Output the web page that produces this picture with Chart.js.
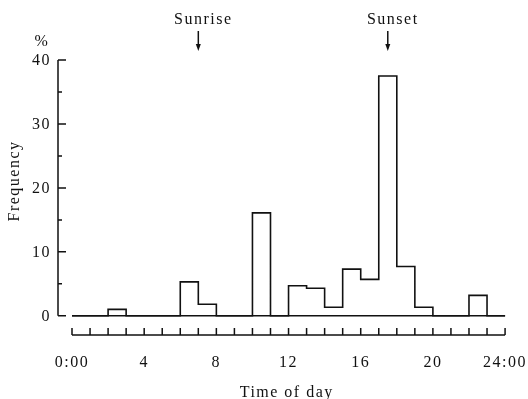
<!DOCTYPE html>
<html>
<head>
<title>Time of day histogram</title>
<script src="https://cdn.jsdelivr.net/npm/chart.js"></script>
<style>
    body { margin: 0; background: #fff; }
    #wrap { width: 528px; height: 399px; }
</style>
</head>
<body>
<div id="wrap"><canvas id="histChart"></canvas></div>
<script>
    // bin start hour -> frequency (%)
    const hours = [0, 1, 2, 3, 4, 5, 6, 7, 8, 9, 10, 11, 12, 13, 14, 15, 16, 17, 18, 19, 20, 21, 22, 23];
    const freq = [0, 0, 1.0, 0, 0, 0, 5.3, 1.8, 0, 0, 16.1, 0, 4.7, 4.3, 1.35, 7.3, 5.7, 37.5, 7.7, 1.35, 0, 0, 3.2, 0];

    const xTickValues = [0, 4, 8, 12, 16, 20, 24];
    const xTickLabels = ['0:00', '4', '8', '12', '16', '20', '24:00'];
    const yTickValues = [0, 10, 20, 30, 40];
    const yMinorTicks = [5, 15, 25, 35];

    const markerLabels = ['Sunrise', 'Sunset'];
    const markerHours = [7, 17.5];

    const FONT = '16px "Liberation Serif", serif';
    const INK = '#111';

    // step outline points (last bin closes at 24)
    const stepPoints = hours.map((h, i) => ({ x: h, y: freq[i] }));
    stepPoints.push({ x: 24, y: 0 });

    function drawText(ctx, txt, x, y, align) {
        ctx.save();
        ctx.font = FONT;
        ctx.fillStyle = INK;
        ctx.textAlign = align || 'center';
        ctx.textBaseline = 'middle';
        ctx.letterSpacing = '1.5px';
        ctx.fillText(txt, x, y);
        ctx.restore();
    }

    const axesPlugin = {
        id: 'paperAxes',
        afterDraw(chart) {
            const ctx = chart.ctx;
            const xs = chart.scales.x, ys = chart.scales.y;
            ctx.save();
            ctx.strokeStyle = INK;
            ctx.fillStyle = INK;
            ctx.lineWidth = 1.5;

            // y axis: line from 0 to 40, ticks pointing inward
            const yAxisX = chart.chartArea.left;
            ctx.beginPath();
            ctx.moveTo(yAxisX, ys.getPixelForValue(0));
            ctx.lineTo(yAxisX, ys.getPixelForValue(40));
            yTickValues.forEach(v => {
                const py = ys.getPixelForValue(v);
                ctx.moveTo(yAxisX, py);
                ctx.lineTo(yAxisX + 8, py);
            });
            yMinorTicks.forEach(v => {
                const py = ys.getPixelForValue(v);
                ctx.moveTo(yAxisX, py);
                ctx.lineTo(yAxisX + 4, py);
            });
            ctx.stroke();
            yTickValues.forEach(v => drawText(ctx, String(v), yAxisX - 7, ys.getPixelForValue(v) + 1, 'right'));
            drawText(ctx, '%', yAxisX - 16, ys.getPixelForValue(40) - 18, 'center');

            // x axis: separate line below the histogram, ticks every hour pointing up
            const xAxisY = chart.chartArea.bottom;
            ctx.beginPath();
            ctx.moveTo(xs.getPixelForValue(0), xAxisY);
            ctx.lineTo(xs.getPixelForValue(24), xAxisY);
            for (let h = 0; h <= 24; h++) {
                const px = xs.getPixelForValue(h);
                ctx.moveTo(px, xAxisY);
                ctx.lineTo(px, xAxisY - 7);
            }
            ctx.stroke();
            xTickValues.forEach((v, i) => drawText(ctx, xTickLabels[i], xs.getPixelForValue(v), xAxisY + 28));

            // axis titles
            drawText(ctx, 'Time of day', xs.getPixelForValue(11.9), 393);
            ctx.save();
            ctx.translate(15, 181);
            ctx.rotate(-Math.PI / 2);
            drawText(ctx, 'Frequency', 0, 0);
            ctx.restore();

            // sunrise / sunset markers
            markerLabels.forEach((lbl, i) => {
                const px = xs.getPixelForValue(markerHours[i]);
                drawText(ctx, lbl, px + 5, 20);
                ctx.beginPath();
                ctx.moveTo(px, 31);
                ctx.lineTo(px, 46);
                ctx.stroke();
                ctx.beginPath();
                ctx.moveTo(px - 2.5, 44);
                ctx.lineTo(px + 2.5, 44);
                ctx.lineTo(px, 51);
                ctx.closePath();
                ctx.fill();
            });
            ctx.restore();
        }
    };

    new Chart(document.getElementById('histChart'), {
        type: 'line',
        data: {
            datasets: [
                {
                    label: 'Frequency',
                    data: stepPoints,
                    stepped: 'before',
                    borderColor: INK,
                    borderWidth: 1.6,
                    pointRadius: 0,
                    fill: false
                },
                {
                    label: 'baseline',
                    data: [{ x: 0, y: 0 }, { x: 24, y: 0 }],
                    borderColor: INK,
                    borderWidth: 1.6,
                    pointRadius: 0,
                    fill: false
                }
            ]
        },
        options: {
            responsive: true,
            maintainAspectRatio: false,
            animation: false,
            layout: { padding: { left: 58, right: 13, top: 60, bottom: 64 } },
            plugins: { legend: { display: false }, tooltip: { enabled: false } },
            scales: {
                x: { type: 'linear', display: false, min: -0.776, max: 24.55 },
                y: { type: 'linear', display: false, min: -3, max: 40 }
            }
        },
        plugins: [axesPlugin]
    });
</script>
</body>
</html>
